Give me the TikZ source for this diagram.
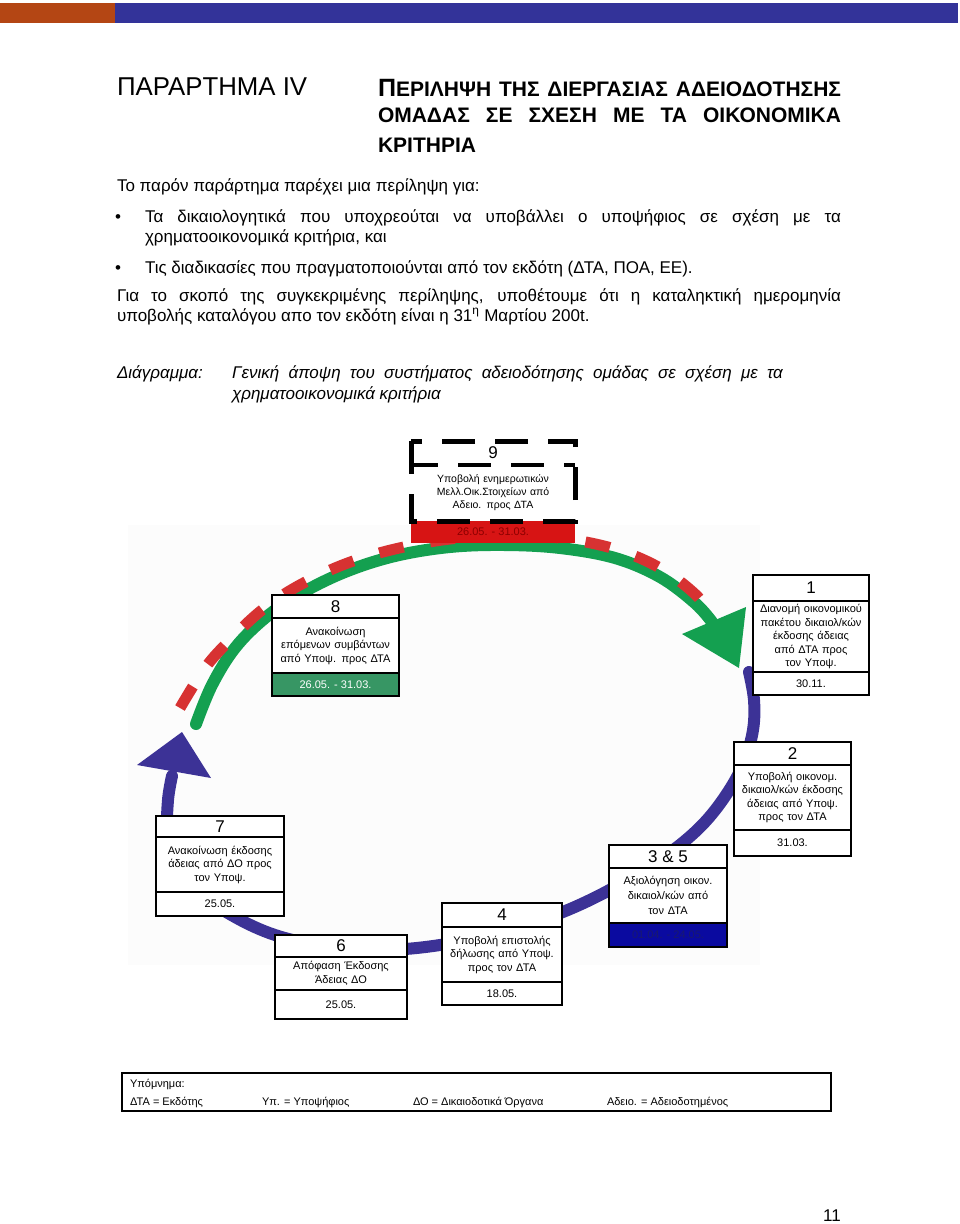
\documentclass[tikz,border=0pt]{standalone}
\usepackage{fontspec}
\setmainfont{Liberation Sans}
\definecolor{barorange}{RGB}{180,70,20}
\definecolor{barblue}{RGB}{51,51,153}
\definecolor{arcgreen}{RGB}{20,160,80}
\definecolor{arcred}{RGB}{215,50,50}
\definecolor{arcblue}{RGB}{60,50,150}
\definecolor{dategreen}{RGB}{55,150,100}
\definecolor{bandred}{RGB}{215,20,20}
\definecolor{banddark}{RGB}{140,0,0}
\definecolor{bandblue}{RGB}{10,10,160}
\definecolor{bandnavy}{RGB}{25,25,110}
\begin{document}
\begin{tikzpicture}[x=1pt,y=-1pt,
  plain/.style={inner sep=0pt, outer sep=0pt, anchor=base west},
  part/.style={draw, line width=2.6pt, fill=white, inner sep=0pt, outer sep=0pt, anchor=north west, align=center},
  numf/.style={font=\fontsize{17}{17}\selectfont},
  txtf/.style={font=\fontsize{11}{13.5}\selectfont},
  bodyf/.style={font=\fontsize{17}{17}\selectfont},
  capf/.style={font=\itshape\fontsize{17}{17}\selectfont},
  arc/.style={line width=12pt, line cap=round, line join=round}
]
\useasboundingbox (0,0) rectangle (960,1224);
% top bar
\fill[barorange] (0,3) rectangle (115,23);
\fill[barblue] (115,3) rectangle (958,23);
% header
\node[plain, font=\fontsize{25.8}{25.8}\selectfont] (annex) at (117,95) {ΠΑΡΑΡΤΗΜΑ IV};
\node[plain, font=\bfseries\fontsize{21}{21}\selectfont] (t1) at (378,96)
  {\makebox[463pt][s]{{\fontsize{25}{25}\selectfont Π}ΕΡΙΛΗΨΗ ΤΗΣ ΔΙΕΡΓΑΣΙΑΣ ΑΔΕΙΟΔΟΤΗΣΗΣ}};
\node[plain, font=\bfseries\fontsize{21}{21}\selectfont] (t2) at (378,122)
  {\makebox[463pt][s]{ΟΜΑΔΑΣ ΣΕ ΣΧΕΣΗ ΜΕ ΤΑ ΟΙΚΟΝΟΜΙΚΑ}};
\node[plain, font=\bfseries\fontsize{21}{21}\selectfont] (t3) at (378,152) {ΚΡΙΤΗΡΙΑ};
% body
\node[plain, bodyf] (p1) at (117,191) {Το παρόν παράρτημα παρέχει μια περίληψη για:};
\node[plain, bodyf] (bu1) at (115,222) {•};
\node[plain, bodyf] (p2) at (145,222) {\makebox[696pt][s]{Τα δικαιολογητικά που υποχρεούται να υποβάλλει ο υποψήφιος σε σχέση με τα}};
\node[plain, bodyf] (p3) at (145,242) {χρηματοοικονομικά κριτήρια, και};
\node[plain, bodyf] (bu2) at (115,273) {•};
\node[plain, bodyf] (p4) at (145,273) {Τις διαδικασίες που πραγματοποιούνται από τον εκδότη (ΔΤΑ, ΠΟΑ, ΕΕ).};
\node[plain, bodyf] (p5) at (117,301) {\makebox[724pt][s]{Για το σκοπό της συγκεκριμένης περίληψης, υποθέτουμε ότι η καταληκτική ημερομηνία}};
\node[plain, bodyf] (p6) at (117,321) {υποβολής καταλόγου απο τον εκδότη είναι η 31\textsuperscript{η} Μαρτίου 200t.};
\node[plain, capf] (c1) at (117,378) {Διάγραμμα:};
\node[plain, capf] (c2) at (232,378) {\makebox[551pt][s]{Γενική άποψη του συστήματος αδειοδότησης ομάδας σε σχέση με τα}};
\node[plain, capf] (c3) at (232,399) {χρηματοοικονομικά κριτήρια};
% faint picture background
\fill[black!1.2] (128,525) rectangle (760,965);
% green arc
\draw[arc, arcgreen] plot[smooth, tension=0.6] coordinates {(196,724) (212,685) (235,648) (265,618) (300,594) (345,572) (395,556) (450,547) (505,545) (560,548) (615,558) (660,577) (695,603) (712,622)};
\fill[arcgreen] (682,634) -- (746,607) -- (739,668) -- cycle;
% red dashed arc
\draw[line width=11pt, arcred, dash pattern=on 25pt off 27pt] plot[smooth, tension=0.6] coordinates {(180,708) (205,668) (230,640) (262,610) (298,586) (345,564) (395,549) (450,539) (505,536) (560,538) (615,549) (660,568) (695,594) (714,618)};
% blue arc
\draw[arc, arcblue] plot[smooth, tension=0.6] coordinates {(749,672) (754,700) (753,730) (744,762) (728,792) (705,822) (676,848) (640,872) (600,895) (555,915) (500,932) (440,945) (380,950) (320,945) (275,935) (235,917) (200,893) (178,862) (168,830) (168,800) (172,776)};
\fill[arcblue] (137,765) -- (182,732) -- (211,778) -- cycle;
% box 9
\node[part, draw=none, fill=white, numf, minimum width=164pt, minimum height=24pt] (b9h) at (411,441) {9};
\node[part, draw=none, fill=white, font=\fontsize{10.5}{13}\selectfont, minimum width=164pt, minimum height=56pt, text width=158pt] (b9b) at (b9h.south west) {Υποβολή ενημερωτικών\\Μελλ.Οικ.Στοιχείων από\\Αδειο. προς ΔΤΑ};
\node[part, draw=none, fill=bandred, text=banddark, font=\fontsize{11}{11}\selectfont, minimum width=164pt, minimum height=22pt] (b9d) at (b9b.south west) {26.05. - 31.03.};
\draw[line width=5pt, dash pattern=on 33pt off 20pt] (b9h.north west) rectangle (b9b.south east);
\draw[line width=4pt, dash pattern=on 33pt off 20pt, dash phase=6pt] (b9h.south west) -- (b9h.south east);
% box 8
\node[part, numf, minimum width=127pt, minimum height=23pt] (b8h) at (272,595) {8};
\node[part, txtf, minimum width=127pt, minimum height=55pt, text width=121pt] (b8b) at (b8h.south west) {Ανακοίνωση\\επόμενων συμβάντων\\από Υποψ. προς ΔΤΑ};
\node[part, txtf, fill=dategreen, text=white, minimum width=127pt, minimum height=23pt] (b8d) at (b8b.south west) {26.05. - 31.03.};
% box 1
\node[part, numf, minimum width=116pt, minimum height=26pt] (b1h) at (753,575) {1};
\node[part, txtf, minimum width=116pt, minimum height=71pt, text width=112pt] (b1b) at (b1h.south west) {Διανομή οικονομικού\\πακέτου δικαιολ/κών\\έκδοσης άδειας\\από ΔΤΑ προς\\τον Υποψ.};
\node[part, txtf, minimum width=116pt, minimum height=23pt] (b1d) at (b1b.south west) {30.11.};
% box 2
\node[part, numf, minimum width=117pt, minimum height=23pt] (b2h) at (734,742) {2};
\node[part, txtf, minimum width=117pt, minimum height=65pt, text width=113pt] (b2b) at (b2h.south west) {Υποβολή οικονομ.\\δικαιολ/κών έκδοσης\\άδειας από Υποψ.\\προς τον ΔΤΑ};
\node[part, txtf, minimum width=117pt, minimum height=26pt] (b2d) at (b2b.south west) {31.03.};
% box 3 & 5
\node[part, numf, minimum width=118pt, minimum height=23pt] (b3h) at (609,845) {3 \& 5};
\node[part, txtf, font=\fontsize{11}{15}\selectfont, minimum width=118pt, minimum height=55pt, text width=114pt] (b3b) at (b3h.south west) {Αξιολόγηση οικον.\\δικαιολ/κών από\\τον ΔΤΑ};
\node[part, txtf, fill=bandblue, text=bandnavy, minimum width=118pt, minimum height=24pt] (b3d) at (b3b.south west) {01.04. - 24.05.};
% box 4
\node[part, numf, minimum width=120pt, minimum height=24pt] (b4h) at (442,903) {4};
\node[part, txtf, minimum width=120pt, minimum height=55pt, text width=117pt] (b4b) at (b4h.south west) {Υποβολή επιστολής\\δήλωσης από Υποψ.\\προς τον ΔΤΑ};
\node[part, txtf, minimum width=120pt, minimum height=23pt] (b4d) at (b4b.south west) {18.05.};
% box 6
\node[part, numf, minimum width=132pt, minimum height=22pt] (b6h) at (275,935) {6};
\node[part, txtf, minimum width=132pt, minimum height=33pt, text width=126pt] (b6b) at (b6h.south west) {Απόφαση Έκδοσης\\Άδειας ΔΟ};
\node[part, txtf, minimum width=132pt, minimum height=29pt] (b6d) at (b6b.south west) {25.05.};
% box 7
\node[part, numf, minimum width=128pt, minimum height=21pt] (b7h) at (156,816) {7};
\node[part, txtf, minimum width=128pt, minimum height=55pt, text width=124pt] (b7b) at (b7h.south west) {Ανακοίνωση έκδοσης\\άδειας από ΔΟ προς\\τον Υποψ.};
\node[part, txtf, minimum width=128pt, minimum height=24pt] (b7d) at (b7b.south west) {25.05.};
% legend
\node[part, line width=2.2pt, minimum width=709pt, minimum height=38pt] (legend) at (122,1073) {};
\node[plain, txtf] (lg0) at (130,1087) {Υπόμνημα:};
\node[plain, txtf] (lg1) at (130,1105) {ΔΤΑ = Εκδότης};
\node[plain, txtf] (lg2) at (262,1105) {Υπ. = Υποψήφιος};
\node[plain, txtf] (lg3) at (413,1105) {ΔΟ = Δικαιοδοτικά Όργανα};
\node[plain, txtf] (lg4) at (607,1105) {Αδειο. = Αδειοδοτημένος};
% page number
\node[inner sep=0pt, anchor=base east, font=\fontsize{17}{17}\selectfont] (pg) at (841,1221) {11};
\end{tikzpicture}
\end{document}
